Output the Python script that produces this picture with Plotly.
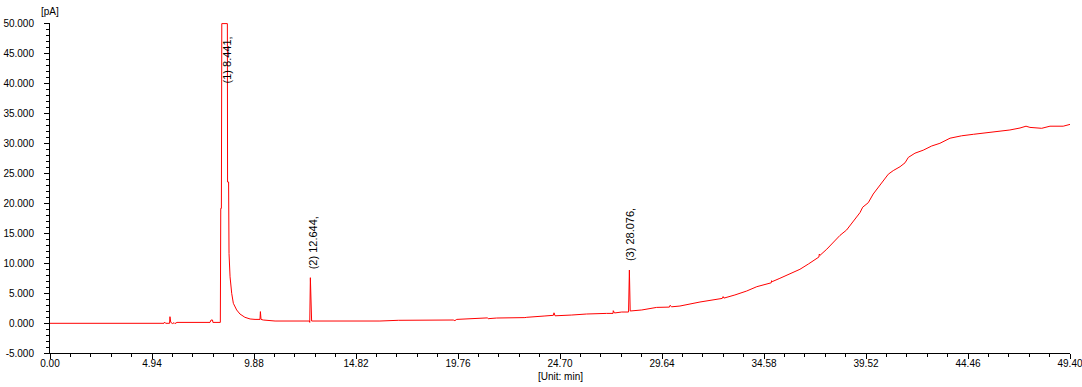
import plotly.graph_objects as go

# Retention time (min) and detector signal (pA)
time_min = [
    0.00, 5.52, 5.55, 5.60, 5.79, 5.81, 5.85, 5.94, 6.01, 6.05, 6.15,
    7.75, 7.80, 7.87, 7.89, 8.25, 8.27, 8.30, 8.32, 8.59, 8.60, 8.65,
    8.67, 8.72, 8.80, 8.88, 9.04, 9.20, 9.44, 9.69, 9.93, 10.17, 10.19,
    10.22, 10.33, 10.90, 12.56, 12.58, 12.61, 12.64, 12.67, 15.98, 16.87,
    19.53, 19.61, 19.70, 21.10, 21.18, 21.22, 21.63, 23.00, 23.09, 23.97,
    24.22, 24.38, 24.41, 24.46, 25.27, 25.99, 26.96, 27.27, 27.28, 27.34,
    27.69, 28.02, 28.06, 28.10, 28.66, 28.98, 29.38, 30.00, 30.03, 30.11,
    30.51, 31.48, 32.21, 32.56, 32.60, 32.64, 33.17, 33.74, 34.23, 34.63,
    34.93, 34.95, 34.98, 35.35, 35.84, 36.32, 36.73, 37.05, 37.24, 37.26,
    37.30, 37.62, 37.94, 38.26, 38.58, 38.90, 39.23, 39.36, 39.63, 39.87,
    40.07, 40.36, 40.60, 40.84, 41.17, 41.41, 41.57, 41.89, 42.29, 42.70,
    43.10, 43.59, 44.15, 44.72, 45.53, 46.01, 46.49, 46.98, 47.27, 47.46,
    48.03, 48.43, 49.07, 49.40,
]
signal_pA = [
    -0.05, -0.05, 0.15, -0.05, -0.05, 1.05, 0.10, -0.10, 0.05, -0.10, 0.10,
    0.10, 0.50, 0.50, 0.10, 0.10, 19.10, 19.10, 49.90, 49.90, 23.50, 23.50,
    11.60, 7.70, 4.95, 3.28, 2.17, 1.50, 0.95, 0.67, 0.60, 0.60, 1.90,
    0.60, 0.50, 0.33, 0.33, 0.10, 7.55, 3.80, 0.33, 0.33, 0.45,
    0.50, 0.40, 0.60, 0.72, 0.85, 0.72, 0.83, 0.90, 0.95, 1.17,
    1.28, 1.28, 1.70, 1.20, 1.33, 1.50, 1.60, 1.60, 2.05, 1.67,
    1.83, 1.83, 8.83, 2.00, 2.17, 2.33, 2.60, 2.65, 2.95, 2.70,
    2.83, 3.50, 3.95, 4.10, 4.40, 4.15, 4.67, 5.33, 6.05, 6.45,
    6.70, 7.05, 6.90, 7.45, 8.17, 8.95, 9.83, 10.60, 11.00, 11.50,
    11.30, 12.30, 13.40, 14.60, 15.50, 16.90, 18.40, 19.30, 20.05, 21.50,
    22.40, 23.55, 24.80, 25.40, 26.05, 26.70, 27.60, 28.30, 28.80, 29.50,
    29.95, 30.80, 31.20, 31.45, 31.80, 31.95, 32.17, 32.50, 32.80, 32.60,
    32.45, 32.80, 32.80, 33.10,
]

x_ticks = [0.00, 4.94, 9.88, 14.82, 19.76, 24.70, 29.64, 34.58, 39.52, 44.46, 49.40]
x_tick_labels = ["0.00", "4.94", "9.88", "14.82", "19.76", "24.70", "29.64",
                 "34.58", "39.52", "44.46", "49.40"]
y_ticks = [-5, 0, 5, 10, 15, 20, 25, 30, 35, 40, 45, 50]
y_tick_labels = ["-5.000", "0.000", "5.000", "10.000", "15.000", "20.000",
                 "25.000", "30.000", "35.000", "40.000", "45.000", "50.000"]

peak_labels = ["(1) 8.441,", "(2) 12.644,", "(3) 28.076,"]
peak_label_x = [8.55, 12.71, 28.07]
peak_label_y = [39.6, 8.6, 10.0]

font_family = "Liberation Sans, Arial, sans-serif"
tick_font = dict(family=font_family, size=10, color="#000000")
label_font = dict(family=font_family, size=11, color="#000000")

fig = go.Figure()
fig.add_trace(go.Scatter(
    x=time_min, y=signal_pA, mode="lines",
    line=dict(color="#ff0000", width=1),
    hoverinfo="skip", showlegend=False,
))

for txt, px, py in zip(peak_labels, peak_label_x, peak_label_y):
    fig.add_annotation(
        x=px, y=py, xref="x", yref="y", text=txt, showarrow=False,
        textangle=-90, xanchor="center", yanchor="bottom",
        font=label_font,
    )

fig.add_annotation(
    x=0, y=1, xref="x", yref="paper", text="[pA]", showarrow=False,
    xanchor="center", yanchor="bottom", yshift=4, font=tick_font,
)
fig.add_annotation(
    x=0.5, y=0, xref="paper", yref="paper", text="[Unit: min]", showarrow=False,
    xanchor="center", yanchor="middle", yshift=-23, font=tick_font,
)

fig.update_layout(
    width=1082, height=387,
    margin=dict(l=50, r=12, t=23, b=34, autoexpand=False),
    paper_bgcolor="white", plot_bgcolor="white",
    xaxis=dict(
        range=[0, 49.40], tickmode="array", tickvals=x_ticks, ticktext=x_tick_labels,
        showgrid=False, zeroline=False, automargin=False,
        showline=True, linecolor="black", linewidth=1,
        ticks="outside", ticklen=5, tickcolor="black",
        minor=dict(tickmode="linear", dtick=0.988, tick0=0, ticks="outside",
                   ticklen=3, tickcolor="black", showgrid=False),
        tickfont=tick_font, ticklabelstandoff=-4, ticklabeloverflow="allow",
    ),
    yaxis=dict(
        range=[-5, 50], tickmode="array", tickvals=y_ticks, ticktext=y_tick_labels,
        showgrid=False, zeroline=False, automargin=False,
        showline=True, linecolor="black", linewidth=1,
        ticks="outside", ticklen=5, tickcolor="black",
        minor=dict(tickmode="linear", dtick=1, tick0=0, ticks="outside",
                   ticklen=3, tickcolor="black", showgrid=False),
        tickfont=tick_font, ticklabelstandoff=8, ticklabeloverflow="allow",
    ),
)

fig.write_html("out.html")
